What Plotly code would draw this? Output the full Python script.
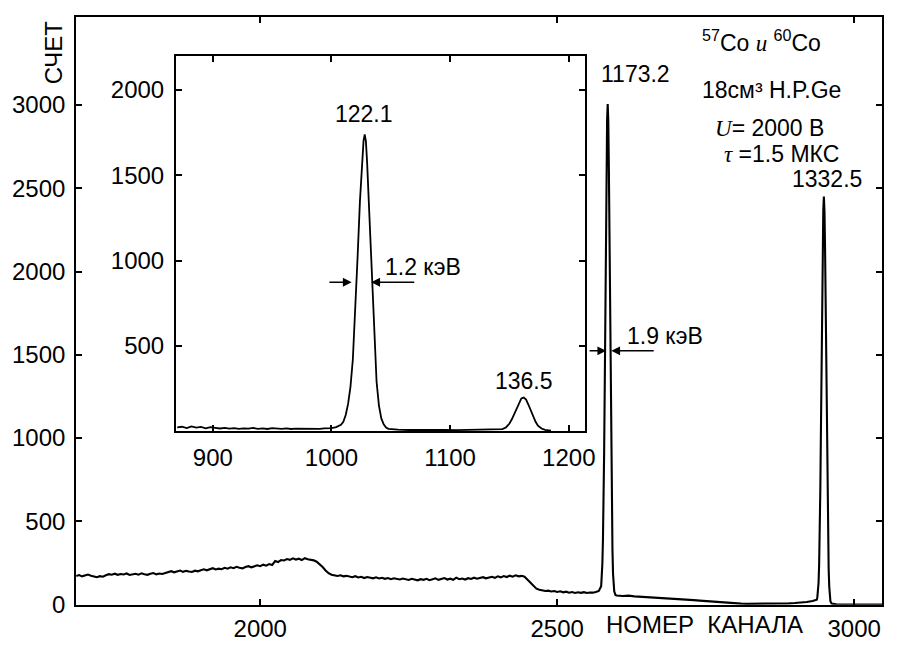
import plotly.graph_objects as go

# ---------------- main spectrum ----------------
cont_ch = list(range(1690, 2575, 5))
cont_counts = [
    172, 178, 170, 176, 181, 174, 169, 165, 171, 168,
    176, 183, 180, 186, 179, 184, 181, 187, 178, 183,
    185, 180, 188, 183, 179, 186, 190, 182, 187, 184,
    189, 196, 201, 194, 199, 205, 197, 203, 199, 196,
    204, 200, 207, 212, 206, 215, 219, 211, 216, 213,
    221, 216, 224, 219, 227, 222, 218, 226, 231, 224,
    229, 236, 231, 240, 234, 244, 238, 262, 256, 268,
    265, 274, 269, 278, 271, 276, 268, 279, 273, 270,
    266, 258, 244, 226, 205, 189, 180, 178, 172, 176,
    170, 173, 168, 165, 171, 163, 167, 160, 166, 162,
    158, 164, 157, 161, 155, 160, 153, 158, 156, 151,
    157, 152, 148, 155, 150, 146, 153, 149, 155, 147,
    152, 158, 149, 154, 160, 151, 156, 149, 162, 153,
    157, 151, 159, 154, 162, 156, 160, 165, 158, 163,
    167, 161, 170, 164, 172, 166, 174, 168, 176, 170,
    173, 168, 150, 128, 108, 96, 90, 86, 82, 84,
    79, 82, 76, 80, 74, 78, 72, 76, 70, 74,
    71, 75, 70, 73, 72, 76, 82,
]

peak1_ch = [2574, 2575, 2576, 2577, 2578, 2579, 2580, 2581, 2582, 2583, 2584, 2585,
            2586, 2587, 2588, 2589, 2590, 2591, 2592, 2593, 2594, 2595, 2596, 2598]
peak1_counts = [110, 160, 245, 390, 600, 910, 1300, 1760, 2220, 2630, 2910, 3005,
                2900, 2610, 2190, 1720, 1260, 860, 550, 330, 185, 110, 80, 58]

tail_ch = [2600, 2610, 2620, 2630, 2640, 2650, 2660, 2670, 2680, 2690, 2700, 2710,
           2720, 2730, 2740, 2750, 2760, 2770, 2780, 2790, 2800, 2810, 2820, 2830,
           2840, 2850, 2860, 2870, 2880, 2890, 2900, 2910, 2920, 2930, 2934]
tail_counts = [55, 52, 54, 50, 48, 46, 45, 42, 40, 38, 35, 33,
               30, 27, 24, 21, 18, 15, 12, 10, 8, 6, 5, 5,
               4, 5, 5, 6, 7, 8, 10, 12, 16, 22, 28]

peak2_ch = [2937, 2938, 2939, 2940, 2941, 2942, 2943, 2944, 2945, 2946, 2947, 2948,
            2949, 2950, 2951, 2952, 2953, 2954, 2955, 2956, 2957, 2958, 2959, 2960,
            2962, 2970, 3000, 3047]
peak2_counts = [30, 45, 75, 130, 240, 420, 690, 1040, 1420, 1810, 2140, 2370,
                2450, 2360, 2130, 1790, 1400, 1020, 670, 400, 220, 110, 50, 20,
                6, 2, 1, 1]

main_ch = cont_ch + peak1_ch + tail_ch + peak2_ch
main_counts = cont_counts + peak1_counts + tail_counts + peak2_counts

# ---------------- inset spectrum ----------------
inset_ch = [870, 874, 878, 882, 886, 890, 894, 898, 902, 906, 910, 914, 918, 922,
            926, 930, 934, 938, 942, 946, 950, 954, 958, 962, 966, 970, 974, 978,
            982, 986, 990, 994, 998,
            1000, 1004, 1008, 1010, 1012, 1014, 1016, 1018, 1020, 1022, 1024, 1026,
            1027, 1028, 1029, 1030, 1032, 1034, 1036, 1038, 1040, 1042, 1044, 1046,
            1048, 1052, 1056, 1065, 1075, 1085, 1095, 1105, 1115, 1125, 1135,
            1140, 1144, 1147, 1150, 1152, 1154, 1156, 1158, 1160, 1162, 1164, 1166,
            1168, 1170, 1172, 1174, 1177, 1180, 1185]
inset_counts = [22, 26, 18, 28, 21, 25, 17, 24, 20, 16, 19, 15, 18, 14,
                17, 15, 19, 14, 16, 13, 18, 15, 14, 17, 13, 15, 14, 16,
                13, 15, 14, 16, 15,
                18, 24, 38, 55, 95, 160, 260, 420, 700, 1020, 1350, 1620,
                1700, 1740, 1700, 1580, 1260, 880, 540, 290, 150, 75, 40, 22,
                14, 10, 9, 7, 8, 6, 7, 6, 7, 6, 7,
                8, 12, 22, 45, 70, 100, 135, 170, 192, 197, 185, 155,
                120, 85, 55, 32, 16, 8, 3]

main_xticks = [2000, 2500, 3000]
main_yticks = [0, 500, 1000, 1500, 2000, 2500, 3000]
inset_xticks = [900, 1000, 1100, 1200]
inset_yticks = [500, 1000, 1500, 2000]

FONT = "Liberation Sans"
TICK_SIZE = 24
TEXT_SIZE = 23
SERIF_I = "<span style=\"font-family:'Liberation Serif';font-style:italic\">%s</span>"

fig = go.Figure()
fig.add_trace(go.Scatter(x=main_ch, y=main_counts, mode="lines",
                         line=dict(color="black", width=2.1),
                         xaxis="x", yaxis="y", hoverinfo="skip"))
fig.add_trace(go.Scatter(x=inset_ch, y=inset_counts, mode="lines",
                         line=dict(color="black", width=1.8),
                         xaxis="x2", yaxis="y2", hoverinfo="skip"))

axis_common = dict(ticks="inside", ticklen=6, tickwidth=1.5, tickcolor="black",
                   showline=True, linewidth=2, linecolor="black", mirror="ticks",
                   showgrid=False, zeroline=False,
                   tickfont=dict(family=FONT, size=TICK_SIZE, color="black"))

fig.update_layout(
    autosize=True,
    margin=dict(l=0, r=0, t=0, b=0, pad=0),
    paper_bgcolor="white", plot_bgcolor="white",
    showlegend=False,
    font=dict(family=FONT, size=TEXT_SIZE, color="black"),
    xaxis=dict(domain=[77 / 900, 892 / 900], range=[1690, 3047],
               tickvals=main_xticks, anchor="y", ticklabelstandoff=2, **axis_common),
    yaxis=dict(domain=[33 / 650, 633 / 650], range=[0, 3530],
               tickvals=main_yticks, anchor="x", ticklabelstandoff=4, **axis_common),
    xaxis2=dict(domain=[178 / 900, 592 / 900], range=[869, 1214],
                tickvals=inset_xticks, anchor="y2", ticklabelstandoff=4, **axis_common),
    yaxis2=dict(domain=[210 / 650, 593 / 650], range=[0, 2200],
                tickvals=inset_yticks, anchor="x2", ticklabelstandoff=5, **axis_common),
)

def txt(text, x, y, xref="x", yref="y", xanchor="center", size=TEXT_SIZE, angle=0):
    fig.add_annotation(text=text, x=x, y=y, xref=xref, yref=yref, showarrow=False,
                       xanchor=xanchor, yanchor="middle", textangle=angle,
                       font=dict(family=FONT, size=size, color="black"))

def arrow(x_head, x_tail, y, xref, yref):
    fig.add_annotation(x=x_head, y=y, ax=x_tail, ay=y, xref=xref, yref=yref,
                       axref=xref, ayref=yref, text="", showarrow=True,
                       arrowhead=2, arrowsize=1.1, arrowwidth=1.6, arrowcolor="black")

# axis titles
txt("СЧЕТ", 55 / 900, 1 - 53 / 650, xref="paper", yref="paper", size=TICK_SIZE, angle=-90)
txt("НОМЕР  КАНАЛА", 712 / 900, 1 - 637 / 650, xref="paper", yref="paper", size=TICK_SIZE)

# main labels
txt("1173.2", 2631, 3188)
txt("1332.5", 2954, 2553)
txt("<sup>57</sup>Co " + SERIF_I % "и" + " <sup>60</sup>Co", 2741, 3382, xanchor="left")
txt("18см³ H.P.Ge", 2741, 3088, xanchor="left")
txt(SERIF_I % "U" + "= 2000 В", 2763, 2859, xanchor="left")
txt(SERIF_I % "τ" + " =1.5 МКС", 2777, 2706, xanchor="left")
txt("1.9 кэВ", 2614, 1612, xanchor="left")
arrow(2582.5, 2552, 1524, "x", "y")
arrow(2591, 2665, 1524, "x", "y")

# inset labels
txt("122.1", 1027.3, 1861, xref="x2", yref="y2")
txt("1.2 кэВ", 1043, 965, xref="x2", yref="y2", xanchor="left")
txt("136.5", 1162.3, 293, xref="x2", yref="y2")
arrow(1017, 997, 873, "x2", "y2")
arrow(1033.5, 1071, 873, "x2", "y2")

fig.write_html(
    "out.html",
    config={"displayModeBar": False, "responsive": True},
    default_width="100vw",
    default_height="100vh",
    post_script=(
        "document.documentElement.style.margin='0';"
        "document.documentElement.style.padding='0';"
        "document.documentElement.style.overflow='hidden';"
        "document.body.style.margin='0';"
        "document.body.style.padding='0';"
        "document.body.style.overflow='hidden';"
        "var gd=document.getElementById('{plot_id}');"
        "if (window.Plotly && gd) { Plotly.Plots.resize(gd); }"
    ),
)
